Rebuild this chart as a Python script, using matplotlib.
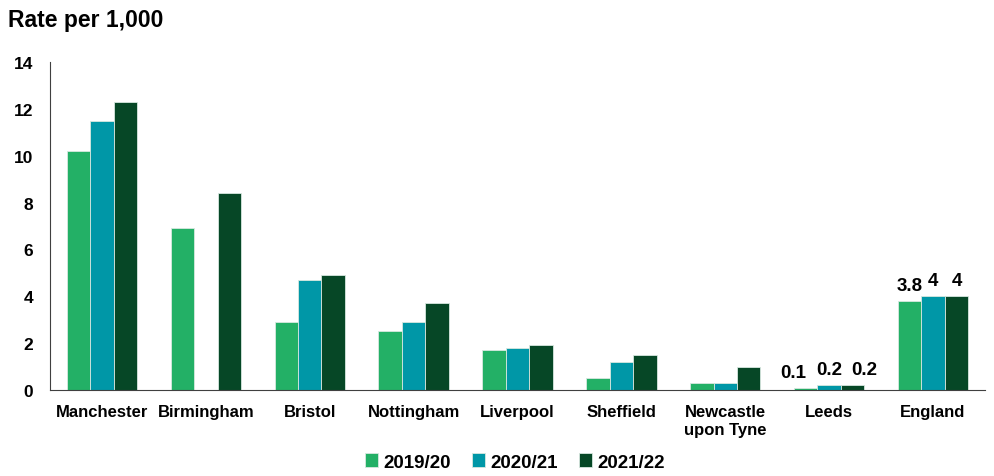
import numpy as np
import matplotlib.pyplot as plt

plt.rcParams['font.family'] = ['Liberation Sans', 'DejaVu Sans']
plt.rcParams['font.weight'] = 'bold'

areas = ['Manchester', 'Birmingham', 'Bristol', 'Nottingham', 'Liverpool',
         'Sheffield', 'Newcastle\nupon Tyne', 'Leeds', 'England']
years = ['2019/20', '2020/21', '2021/22']
rate_1920 = [10.2, 6.9, 2.9, 2.5, 1.7, 0.5, 0.3, 0.1, 3.8]
rate_2021 = [11.5, np.nan, 4.7, 2.9, 1.8, 1.2, 0.3, 0.2, 4.0]
rate_2122 = [12.3, 8.4, 4.9, 3.7, 1.9, 1.5, 1.0, 0.2, 4.0]
labelled = ['Leeds', 'England']

colors = ['#23b066', '#0097a7', '#064726']
series = [rate_1920, rate_2021, rate_2122]

fig = plt.figure(figsize=(9.94, 4.77), dpi=100)
ax = fig.add_axes([50/994, 1 - 391/477, 935/994, 328/477])

x = np.arange(len(areas))
w = 0.226
for i, (vals, c, lab) in enumerate(zip(series, colors, years)):
    bars = ax.bar(x + (i - 1) * w, vals, w, color=c, label=lab,
                  edgecolor='#d8e8e0', linewidth=0.6)
    for j, b in enumerate(bars):
        if areas[j] in labelled and not np.isnan(vals[j]):
            # small values get spread out so the labels don't collide
            shift = (i - 1) * 0.115 if vals[j] < 1 else 0
            ax.text(b.get_x() + b.get_width() / 2 + shift, vals[j] + 0.3,
                    f'{vals[j]:g}', ha='center', va='bottom',
                    fontsize=13.5, fontweight='bold')

ax.set_xlim(-0.5, len(areas) - 0.5)
ax.set_ylim(0, 14)
ax.set_yticks(range(0, 15, 2))
ax.set_xticks(x)
ax.set_xticklabels(areas, fontsize=12, fontweight='bold', linespacing=1.3)
for label in ax.yaxis.get_ticklabels():
    label.set_fontsize(12.5)
    label.set_fontweight('bold')
ax.tick_params(length=0, pad=10)
ax.tick_params(axis='y', pad=12)
ax.spines['top'].set_visible(False)
ax.spines['right'].set_visible(False)
ax.spines['left'].set_color('#404040')
ax.spines['bottom'].set_color('#404040')

fig.text(8/994, 1 - 20/477, 'Rate per 1,000', fontsize=16.5, fontweight='bold',
         va='center', ha='left')

fig.legend(loc='center', bbox_to_anchor=(515/994, 1 - 463/477), ncol=3,
           frameon=False, fontsize=13.5, handlelength=0.7, handleheight=0.7,
           handletextpad=0.3, columnspacing=1.1)

fig.savefig('out.png', dpi=100)
